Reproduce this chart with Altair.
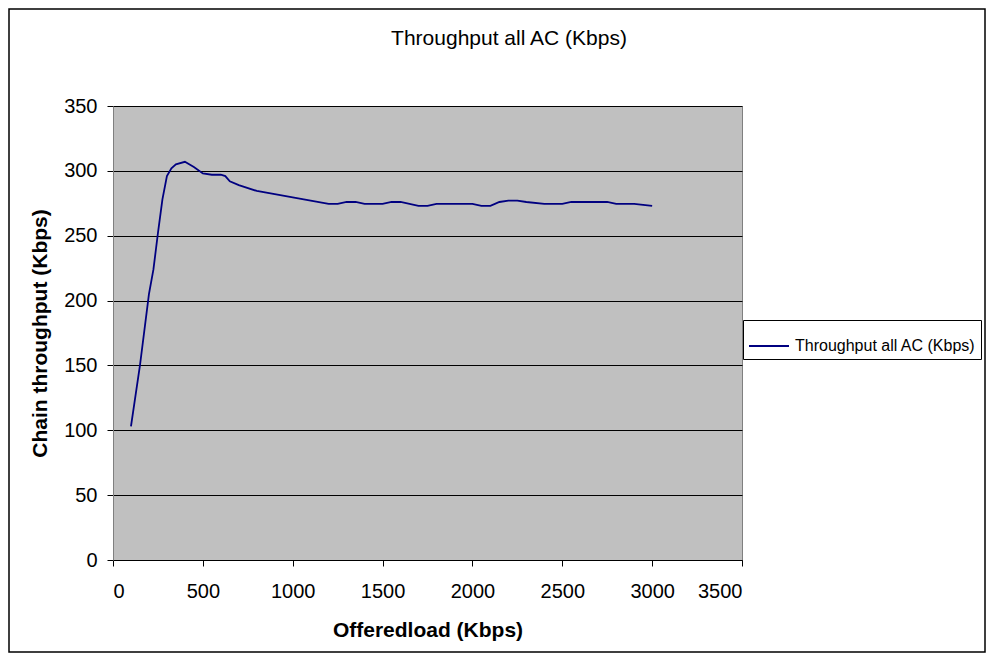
import altair as alt
import pandas as pd

load = [100, 150, 200, 225, 250, 275, 300, 325, 350, 400, 450, 500, 550, 600, 625, 650, 700, 800,
        900, 1000, 1100, 1200, 1250, 1300, 1350, 1400, 1500, 1550, 1600, 1700, 1750, 1800, 2000,
        2050, 2100, 2150, 2200, 2250, 2300, 2400, 2500, 2550, 2750, 2800, 2900, 3000]
throughput = [103, 150, 205, 224, 252, 278, 296, 302, 305, 307, 303, 298, 297, 297, 296, 292, 289, 284.5,
              282, 279.5, 277, 274.5, 274.5, 276, 276, 274.5, 274.5, 276, 276, 273, 273, 274.5, 274.5,
              273, 273, 276, 277, 277, 276, 274.5, 274.5, 276, 276, 274.5, 274.5, 273]
series = "Throughput all AC (Kbps)"
chart_title = "Throughput all AC (Kbps)"

df = pd.DataFrame({"load": load, "thr": throughput, "series": [series] * len(load)})

FONT = "Liberation Sans"
W, H = 629, 454

line = alt.Chart(df).mark_line(strokeWidth=1.8).encode(
    x=alt.X("load:Q", scale=alt.Scale(domain=[0, 3500], nice=False),
            axis=alt.Axis(title="Offeredload (Kbps)", values=list(range(0, 3501, 500)), grid=False,
                          format="d", labelFontSize=20, titleFontSize=21, titleFontWeight="bold",
                          labelPadding=15, titlePadding=18, tickSize=6, tickColor="#000",
                          domainColor="#000", labelColor="#000", titleColor="#000")),
    y=alt.Y("thr:Q", scale=alt.Scale(domain=[0, 350], nice=False),
            axis=alt.Axis(title="Chain throughput (Kbps)", values=list(range(0, 351, 50)),
                          gridColor="#000", gridOpacity=1, labelFontSize=20, titleFontSize=21,
                          titleFontWeight="bold", labelPadding=10, titlePadding=13, tickSize=6,
                          tickColor="#000", domainColor="#808080", labelColor="#000", titleColor="#000")),
    color=alt.Color("series:N", scale=alt.Scale(range=["#000080"]),
                    legend=alt.Legend(title=None, orient="none", legendX=630, legendY=214,
                                      strokeColor="#000", fillColor="#fff", padding=5,
                                      symbolType="stroke", symbolSize=1600, symbolStrokeWidth=1.8,
                                      labelFontSize=16, labelFont=FONT, labelColor="#000",
                                      labelOffset=5, labelLimit=400)),
)

meta = alt.Data(values=[{"t": chart_title}])

frame = alt.Chart(meta).mark_rect(fill=None, stroke="#000", strokeWidth=1.5).encode(
    x=alt.value(-104), x2=alt.value(W + 243), y=alt.value(-97), y2=alt.value(H + 92)
)

title_txt = alt.Chart(meta).mark_text(font=FONT, fontSize=21, color="#000", align="center",
                                      baseline="middle").encode(
    text="t:N", x=alt.value(396), y=alt.value(-67)
)

chart = alt.layer(frame, title_txt, line).properties(
    width=W, height=H,
    autosize=alt.AutoSizeParams(type="none"),
    padding={"left": 105, "top": 98, "right": 244, "bottom": 93},
).configure_view(fill="#C0C0C0", stroke="#808080", strokeWidth=1
).configure_axis(labelFont=FONT, titleFont=FONT)

chart.save("out.html", embed_options={"renderer": "svg", "actions": False})
